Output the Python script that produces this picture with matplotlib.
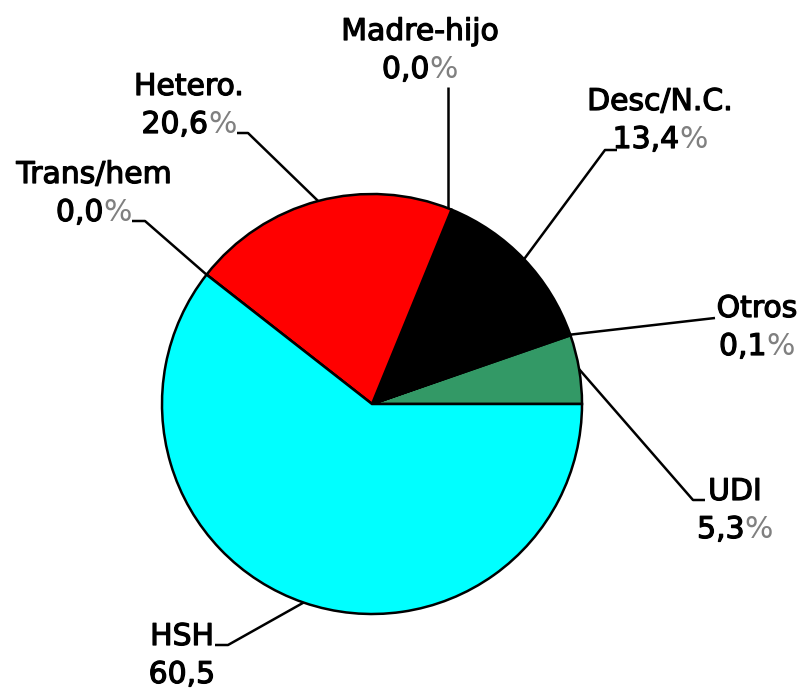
import numpy as np
import matplotlib
matplotlib.use("Agg")
import matplotlib.pyplot as plt
import matplotlib.patheffects as pe

# datos (sentido antihorario desde las 3 en punto)
categorias = ["UDI", "Otros", "Desc/N.C.", "Madre-hijo", "Hetero.", "Trans/hem", "HSH"]
porcentajes = [5.3, 0.1, 13.4, 0.0, 20.6, 0.0, 60.5]
numeros = ["5,3", "0,1", "13,4", "0,0", "20,6", "0,0", "60,5"]
sufijos = ["%", "%", "%", "%", "%", "%", ""]
colores = ["#339966", "#339966", "#000000", "#000000", "#ff0000", "#ff0000", "#00ffff"]

W, H = 800, 688
cx, cy, r = 372, 404, 210  # pixel coords, y down


def P(x, y):
    return (x, H - y)


# layout: text x, baseline of name, baseline of value, leader points after the anchor
# (None as x -> vertical line from the anchor)
layout = {
    "UDI":        (735, 500, 538, [(693, 500), (705, 500)]),
    "Otros":      (757, 317, 355, [(715, 318)]),
    "Desc/N.C.":  (660, 110, 148, [(605, 150), (617, 150)]),
    "Madre-hijo": (420, 40, 78, [(None, 87)]),
    "Hetero.":    (189, 95, 133, [(248, 133), (237, 133)]),
    "Trans/hem":  (94, 183, 221, [(145, 221), (132, 221)]),
    "HSH":        (182, 645, 683, [(228, 645), (215, 645)]),
}

fs = 21.5
grueso = [pe.withStroke(linewidth=0.9, foreground="black")]

fig = plt.figure(figsize=(8, 6.88), dpi=100)
ax = fig.add_axes([0, 0, 1, 1])

ax.pie(porcentajes, colors=colores, startangle=0, counterclock=True,
       center=P(cx, cy), radius=r,
       wedgeprops=dict(edgecolor="black", linewidth=1.8))

ax.set_xlim(0, W)
ax.set_ylim(0, H)
ax.set_aspect("equal")
ax.axis("off")

# ancho del signo % en pixeles
rend = fig.canvas.get_renderer()
tmp = ax.text(0, 0, "%", fontsize=fs)
w_pct = tmp.get_window_extent(rend).width
tmp.remove()

total = sum(porcentajes)
acum = np.cumsum([0] + porcentajes)
for i, nombre in enumerate(categorias):
    ang = np.deg2rad((acum[i] + acum[i + 1]) / 2 / total * 360)
    px, py = cx + r * np.cos(ang), cy - r * np.sin(ang)
    tx, yb1, yb2, pts = layout[nombre]
    if nombre == "Madre-hijo":
        px = 448
        py = cy - np.sqrt(r ** 2 - (px - cx) ** 2)
    xs = [px] + [px if p[0] is None else p[0] for p in pts]
    ys = [H - py] + [H - p[1] for p in pts]
    ax.plot(xs, ys, color="black", lw=1.8, solid_capstyle="butt")
    ax.text(*P(tx, yb1), nombre, ha="center", va="baseline", fontsize=fs,
            path_effects=grueso)
    shift = w_pct / 2 if sufijos[i] else 0
    t = ax.text(*P(tx - shift, yb2), numeros[i], ha="center", va="baseline",
                fontsize=fs, path_effects=grueso)
    if sufijos[i]:
        ax.annotate(sufijos[i], xy=(1, 0), xycoords=t, ha="left", va="bottom",
                    fontsize=fs, color="#808080")

fig.savefig("out.png", dpi=100, facecolor="white")
